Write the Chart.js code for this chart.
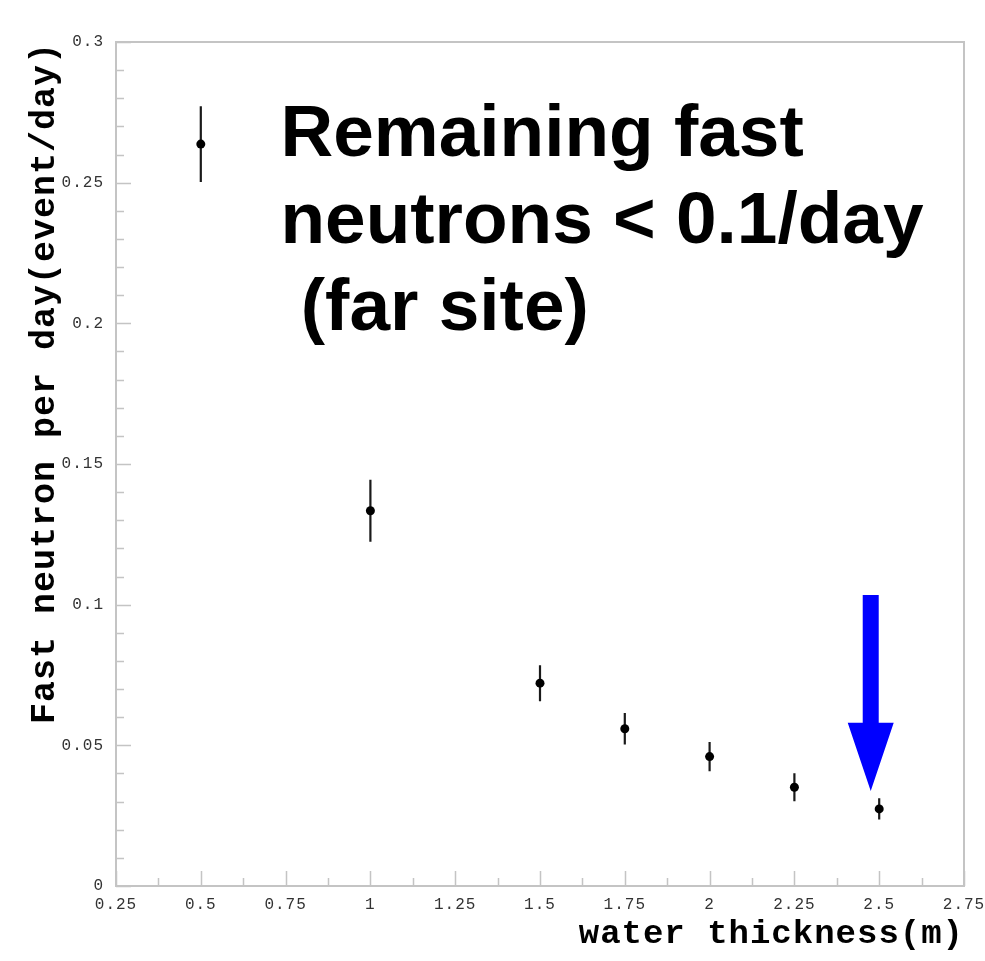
<!DOCTYPE html>
<html>
<head>
<meta charset="utf-8">
<script src="https://cdn.jsdelivr.net/npm/chart.js@4.4.1/dist/chart.umd.min.js"></script>
<style>
  body { margin: 0; background: #fff; }
  #wrap { width: 985px; height: 961px; }
</style>
</head>
<body>
<div id="wrap"><canvas id="myChart" width="985" height="961"></canvas></div>
<script>
// water thickness (m) of each measurement
const thickness = [0.5, 1.0, 1.5, 1.75, 2.0, 2.25, 2.5];
// remaining fast neutrons (event/day)
const rate = [0.2637, 0.1334, 0.0721, 0.0559, 0.0460, 0.0351, 0.0274];
// error on each point (+/-)
const rateErr = [0.0135, 0.0110, 0.0064, 0.0056, 0.0052, 0.0050, 0.0038];

// tick labels on both axes
const xTickValues = [0.25, 0.5, 0.75, 1, 1.25, 1.5, 1.75, 2, 2.25, 2.5, 2.75];
const yTickValues = [0, 0.05, 0.1, 0.15, 0.2, 0.25, 0.3];

// text note and the blue arrow pointing at the last point
const noteLines = ['Remaining fast', 'neutrons < 0.1/day', ' (far site)'];
const noteAt = { x: 0.735, y: 0.2595 };   // baseline of first line, in data units
const arrowX = 2.475;
const arrowTop = 0.1034, arrowHeadBase = 0.058, arrowTip = 0.0338;

const mono = '"Liberation Mono", "DejaVu Sans Mono", monospace';

// frame, inside ticks, error bars, arrow and note
const paw = {
    id: 'paw',
    beforeDraw(chart) {
        chart.ctx.letterSpacing = '1px';
    },
    beforeDatasetsDraw(chart) {
        const { ctx, chartArea: a, scales: { x, y } } = chart;
        ctx.save();
        ctx.strokeStyle = '#c4c4c4';
        ctx.lineWidth = 2;
        ctx.strokeRect(a.left, a.top, a.right - a.left, a.bottom - a.top);

        ctx.lineWidth = 1.5;
        ctx.beginPath();
        for (let i = 0; i <= 20; i++) {
            const px = Math.round(x.getPixelForValue(x.min + i * 0.125)) + 0.5;
            const len = i % 2 === 0 ? 15 : 8;
            ctx.moveTo(px, a.bottom);
            ctx.lineTo(px, a.bottom - len);
        }
        for (let i = 0; i <= 30; i++) {
            const py = Math.round(y.getPixelForValue(i * 0.01)) + 0.5;
            const len = i % 5 === 0 ? 15 : 8;
            ctx.moveTo(a.left, py);
            ctx.lineTo(a.left + len, py);
        }
        ctx.stroke();

        // vertical error bars
        ctx.strokeStyle = '#1a1a1a';
        ctx.lineWidth = 2.2;
        ctx.beginPath();
        thickness.forEach((t, i) => {
            const px = x.getPixelForValue(t);
            ctx.moveTo(px, y.getPixelForValue(rate[i] + rateErr[i]));
            ctx.lineTo(px, y.getPixelForValue(rate[i] - rateErr[i]));
        });
        ctx.stroke();
        ctx.restore();
    },
    afterDraw(chart) {
        const { ctx, scales: { x, y } } = chart;
        ctx.save();
        ctx.letterSpacing = '0px';

        // arrow
        const cx = x.getPixelForValue(arrowX);
        const yTop = y.getPixelForValue(arrowTop);
        const yBase = y.getPixelForValue(arrowHeadBase);
        const yTip = y.getPixelForValue(arrowTip);
        ctx.fillStyle = '#0000ff';
        ctx.beginPath();
        ctx.moveTo(cx - 8, yTop);
        ctx.lineTo(cx + 8, yTop);
        ctx.lineTo(cx + 8, yBase);
        ctx.lineTo(cx + 23, yBase);
        ctx.lineTo(cx, yTip);
        ctx.lineTo(cx - 23, yBase);
        ctx.lineTo(cx - 8, yBase);
        ctx.closePath();
        ctx.fill();

        // note
        ctx.fillStyle = '#000';
        ctx.font = 'bold 73px "Liberation Sans", Arial, sans-serif';
        ctx.textBaseline = 'alphabetic';
        ctx.textAlign = 'left';
        const nx = x.getPixelForValue(noteAt.x);
        const ny = y.getPixelForValue(noteAt.y);
        noteLines.forEach((line, i) => ctx.fillText(line, nx, ny + i * 87));
        ctx.restore();
    }
};

const fmt = v => String(+Number(v).toFixed(2));

new Chart(document.getElementById('myChart'), {
    type: 'scatter',
    data: {
        datasets: [{
            data: thickness.map((t, i) => ({ x: t, y: rate[i] })),
            pointRadius: 4.5,
            pointBackgroundColor: '#000',
            pointBorderWidth: 0
        }]
    },
    options: {
        responsive: false,
        animation: false,
        layout: { padding: { left: 0, top: 42, right: 21, bottom: 0 } },
        plugins: { legend: { display: false }, tooltip: { enabled: false } },
        scales: {
            x: {
                type: 'linear',
                min: 0.25,
                max: 2.75,
                afterBuildTicks: s => { s.ticks = xTickValues.map(v => ({ value: v })); },
                afterFit: s => { s.height = 75; s.paddingLeft = 0; s.paddingRight = 0; },
                grid: { display: false, drawTicks: false },
                border: { display: false },
                ticks: {
                    autoSkip: false,
                    maxRotation: 0,
                    padding: 9,
                    color: '#333',
                    font: { family: mono, size: 16 },
                    callback: fmt
                },
                title: {
                    display: true,
                    text: 'water thickness(m)',
                    align: 'end',
                    color: '#000',
                    font: { family: mono, size: 34, weight: 'bold', lineHeight: 1.2 },
                    padding: { top: 0, bottom: 6 }
                }
            },
            y: {
                min: 0,
                max: 0.3,
                afterBuildTicks: s => { s.ticks = yTickValues.map(v => ({ value: v })); },
                afterFit: s => { s.width = 116; s.paddingTop = 0; s.paddingBottom = 0; },
                grid: { display: false, drawTicks: false },
                border: { display: false },
                ticks: {
                    padding: 12,
                    color: '#333',
                    font: { family: mono, size: 16 },
                    callback: fmt
                },
                title: {
                    display: true,
                    text: 'Fast neutron per day(event/day)',
                    align: 'end',
                    color: '#000',
                    font: { family: mono, size: 35, weight: 'bold', lineHeight: 1.2 },
                    padding: { top: 24, bottom: 0 }
                }
            }
        }
    },
    plugins: [paw]
});
</script>
</body>
</html>
